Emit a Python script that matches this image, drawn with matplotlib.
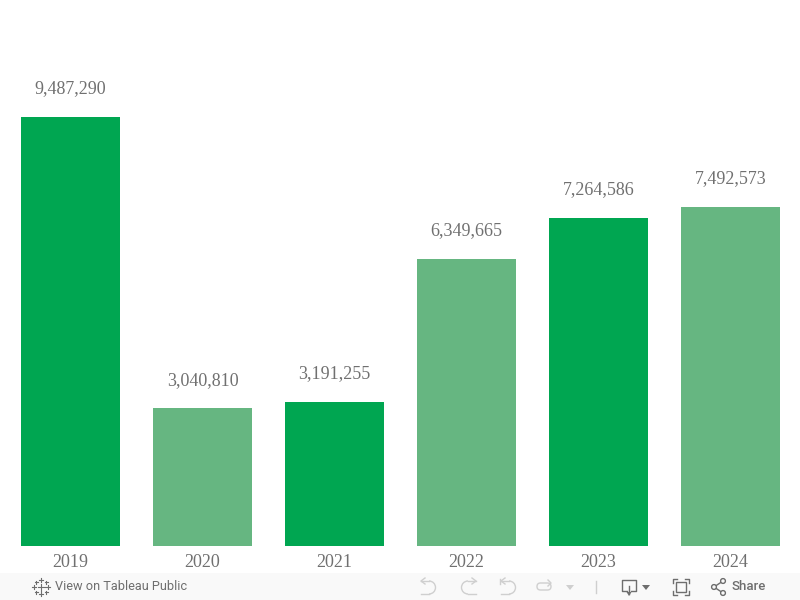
import matplotlib
matplotlib.use('Agg')
import matplotlib.pyplot as plt
from matplotlib.patches import Rectangle, Circle, Arc, FancyBboxPatch

years = ['2019', '2020', '2021', '2022', '2023', '2024']
visitors = [9487290, 3040810, 3191255, 6349665, 7264586, 7492573]
bar_colors = ['#00a651', '#66b681', '#00a651', '#66b681', '#00a651', '#66b681']

TEXT_GREY = '#707070'
ICON_DARK = '#6e6e6e'
ICON_LIGHT = '#cfcfcf'

fig = plt.figure(figsize=(8, 6), dpi=100, facecolor='white')

# chart area: pixel rows 0..546 of the 600 high picture
ax = fig.add_axes([0, 54 / 600, 1, 546 / 600])
ax.bar(range(len(years)), visitors, width=0.75, color=bar_colors)
ax.set_xlim(-70.5 / 132, (800 - 70.5) / 132)
ax.set_ylim(0, 546 * 9487290 / 429)
ax.set_xticks(range(len(years)))
ax.set_xticklabels(years, family='Liberation Serif', fontsize=13, color=TEXT_GREY)
ax.tick_params(axis='x', length=0, pad=5.5)
ax.set_yticks([])
for s in ax.spines.values():
    s.set_visible(False)
for i, v in enumerate(visitors):
    ax.annotate(f'{v:,}', (i, v), xytext=(0, 20.3), textcoords='offset points',
                ha='center', va='center', family='Liberation Serif',
                fontsize=13, color=TEXT_GREY)

# toolbar strip, drawn in pixel coordinates
tb = fig.add_axes([0, 0, 1, 27 / 600])
tb.set_xlim(0, 800)
tb.set_ylim(600, 573)
tb.axis('off')
tb.add_patch(Rectangle((0, 573), 800, 27, color='#f9f9f9', lw=0))

# tableau logo
for x, y, r in [(41, 587, 3.5), (41, 580, 2), (41, 594, 2), (34, 587, 2), (48, 587, 2),
                (36, 582, 1.5), (46, 582, 1.5), (36, 592, 1.5), (46, 592, 1.5)]:
    tb.plot([x - r, x + r], [y, y], color=ICON_DARK, lw=0.8)
    tb.plot([x, x], [y - r, y + r], color=ICON_DARK, lw=0.8)
tb.text(55, 587, 'View on Tableau Public', family='Roboto', fontsize=9.2, color=ICON_DARK,
        ha='left', va='center')

# undo / redo / revert / refresh
def curved_arrow(cx, flip, extra_bar=False):
    s = -1 if flip else 1
    tb.add_patch(Arc((cx, 587.5), 13, 13, theta1=-90, theta2=90, color=ICON_LIGHT, lw=1) if not flip
                 else Arc((cx, 587.5), 13, 13, theta1=90, theta2=270, color=ICON_LIGHT, lw=1))
    tb.plot([cx, cx - s * 8], [581, 581], color=ICON_LIGHT, lw=1)
    tb.plot([cx, cx - s * 8], [594, 594], color=ICON_LIGHT, lw=1)
    tb.plot([cx - s * 4, cx - s * 8, cx - s * 4], [578, 581, 584], color=ICON_LIGHT, lw=1)
    if extra_bar:
        tb.plot([cx - s * 9, cx - s * 9], [579, 584], color=ICON_LIGHT, lw=1)

curved_arrow(429, False)
curved_arrow(468, True)
curved_arrow(509, False, extra_bar=True)
tb.add_patch(FancyBboxPatch((537, 583), 14, 7, boxstyle='round,pad=0,rounding_size=3.5',
                            fc='none', ec=ICON_LIGHT, lw=1))
tb.plot([548, 551, 548], [580, 583, 586], color=ICON_LIGHT, lw=1)
tb.fill([566, 574, 570], [585, 585, 590], color=ICON_LIGHT, lw=0)
tb.plot([595.5, 595.5], [581, 593], color=ICON_LIGHT, lw=1)

# download
tb.plot([627, 622, 622, 636, 636, 631], [591, 591, 580, 580, 591, 591], color=ICON_DARK, lw=1)
tb.plot([629, 629], [586, 594], color=ICON_DARK, lw=1)
tb.fill([626.5, 631.5, 629], [592, 592, 596], color=ICON_DARK, lw=0)
tb.fill([642, 650, 646], [585, 585, 590], color=ICON_DARK, lw=0)

# fullscreen
tb.add_patch(Rectangle((676, 582), 10, 10, fc='none', ec=ICON_DARK, lw=1))
for x, y, dx, dy in [(673, 579, 4, 4), (689, 579, -4, 4), (673, 595, 4, -4), (689, 595, -4, -4)]:
    tb.plot([x + dx, x, x], [y, y, y + dy], color=ICON_DARK, lw=1)

# share
tb.plot([723, 714, 723], [581, 587, 593], color=ICON_DARK, lw=1)
for x, y in [(723, 581), (714, 587), (723, 593)]:
    tb.add_patch(Circle((x, y), 2.4, fc='#f9f9f9', ec=ICON_DARK, lw=1, zorder=3))
tb.text(732, 587, 'Share', family='Roboto', fontsize=9.5, fontweight='medium', color=ICON_DARK,
        ha='left', va='center')

fig.savefig('out.png', dpi=100, facecolor='white')
plt.close(fig)
